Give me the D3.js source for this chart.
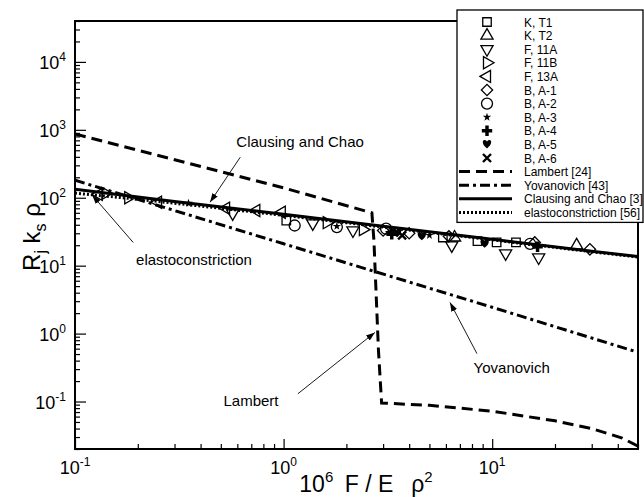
<!DOCTYPE html>
<html><head><meta charset="utf-8">
<script src="https://cdn.jsdelivr.net/npm/d3@7"></script>
<style>
body{margin:0;background:#fff}
svg text{font-family:"Liberation Sans",Arial,Helvetica,sans-serif;fill:#000}
</style>
</head><body>
<svg id="chart" width="644" height="497"></svg>
<script>
// ---------- data ----------
const xDomain = [0.1, 50];
const yDomain = [0.02, 40000];
const xMajorTicks = [0.1, 1, 10];
const xTickExponents = ["-1", "0", "1"];
const yMajorTicks = [0.1, 1, 10, 100, 1000, 10000];
const yTickExponents = ["-1", "0", "1", "2", "3", "4"];

// curves [x, y]
const lambert = [[0.1, 870], [1, 140], [2.65, 60], [2.71, 23.6], [2.85, 0.56], [2.95, 0.095],
  [5, 0.088], [10, 0.072], [20, 0.052], [30, 0.04], [42, 0.029], [50, 0.022]];
const yovanovich = [[0.1, 181], [1, 21], [10, 2.44], [50, 0.53]];
const clausingChao = [[0.1, 133], [0.3, 88], [1, 57], [3, 38], [10, 24.5], [30, 16.3], [50, 13.7]];
const elastoconstriction = [[0.1, 117], [0.2, 95], [0.5, 70], [1, 55], [3, 37], [10, 24], [30, 16], [50, 13.4]];

// experimental data
const kT1 = [[1.03, 46], [5.8, 26], [8.5, 23], [10.5, 22], [13, 22]];
const kT2 = [[6.6, 26], [25.4, 19.9]];
const f11A = [[0.57, 59], [1.38, 42], [2.15, 33], [6.4, 19.9], [11.6, 15.2], [16.7, 13.2]];
const f11B = [[0.14, 116], [0.18, 100], [1.61, 43], [2.4, 34]];
const f13A = [[0.13, 112], [0.25, 86], [0.53, 70], [0.74, 65], [0.98, 61]];
const bA1 = [[3.0, 33], [4.0, 30], [6.2, 27], [16, 22], [29.4, 17.4]];
const bA2 = [[1.13, 39], [1.8, 37], [3.1, 35], [15.2, 21]];
const bA3 = [[0.35, 83], [1.8, 38], [3.2, 31], [5, 28]];
const bA4 = [[3.3, 29], [16.5, 19]];
const bA5 = [[3.5, 30], [4.6, 27], [9.2, 21]];
const bA6 = [[3.7, 28]];

const seriesNames = ["K, T1", "K, T2", "F, 11A", "F, 11B", "F, 13A", "B, A-1", "B, A-2", "B, A-3", "B, A-4", "B, A-5", "B, A-6"];
const seriesData = [kT1, kT2, f11A, f11B, f13A, bA1, bA2, bA3, bA4, bA5, bA6];
const lineNames = ["Lambert [24]", "Yovanovich [43]", "Clausing and Chao [3]", "elastoconstriction [56]"];
const lineData = [lambert, yovanovich, clausingChao, elastoconstriction];

// annotations: label, text position [x,y], arrow from [x,y] to [x,y]
const annLabels = ["Clausing and Chao", "elastoconstriction", "Yovanovich", "Lambert"];
const annText = [[1.2, 560], [0.372, 10.1], [12.4, 0.266], [0.698, 0.0865]];
const annFrom = [[0.62, 396], [0.19, 22], [8.45, 0.507], [1.17, 0.13]];
const annTo = [[0.444, 86], [0.121, 109], [6.28, 2.87], [2.74, 1.04]];

// ---------- drawing ----------
const svg = d3.select("#chart");
const L = 75, R = 638, T = 21, B = 449;
const x = d3.scaleLog().domain(xDomain).range([L, R]);
const y = d3.scaleLog().domain(yDomain).range([B, T]);

const defs = svg.append("defs");
defs.append("clipPath").attr("id", "clip").append("rect")
  .attr("x", L).attr("y", T).attr("width", R - L).attr("height", B - T);
defs.append("marker").attr("id", "arrow").attr("viewBox", "0 0 10 10")
  .attr("refX", 10).attr("refY", 5).attr("markerWidth", 9).attr("markerHeight", 9)
  .attr("markerUnits", "userSpaceOnUse").attr("orient", "auto")
  .append("path").attr("d", "M0,1.5 L10,5 L0,8.5 Z").attr("fill", "#000");

// axes ticks (inside)
const xMinor = x.ticks().filter(v => !xMajorTicks.some(m => Math.abs(m - v) < 1e-9));
const yMinor = y.ticks().filter(v => !yMajorTicks.some(m => Math.abs(m / v - 1) < 1e-9));

const gx = svg.append("g").attr("transform", `translate(0,${B})`);
gx.call(d3.axisBottom(x).tickValues(xMinor).tickSize(-5).tickFormat(""));
gx.append("g").call(d3.axisBottom(x).tickValues(xMajorTicks).tickSize(-10).tickFormat(""));
gx.selectAll(".domain").remove();
gx.selectAll("line").attr("stroke", "#000").attr("stroke-width", 1.2);

const gy = svg.append("g").attr("transform", `translate(${L},0)`);
gy.call(d3.axisLeft(y).tickValues(yMinor).tickSize(-5).tickFormat(""));
gy.append("g").call(d3.axisLeft(y).tickValues(yMajorTicks).tickSize(-11).tickFormat(""));
gy.selectAll(".domain").remove();
gy.selectAll("line").attr("stroke", "#000").attr("stroke-width", 1.2);

// tick labels with superscripts
xMajorTicks.forEach((v, i) => {
  const t = svg.append("text").attr("x", x(v)).attr("y", 474).attr("text-anchor", "middle").attr("font-size", 18);
  t.append("tspan").text("10");
  t.append("tspan").attr("dy", -8).attr("font-size", 12).text(xTickExponents[i]);
});
yMajorTicks.forEach((v, i) => {
  const t = svg.append("text").attr("x", 66).attr("y", y(v) + 7).attr("text-anchor", "end").attr("font-size", 18);
  t.append("tspan").text("10");
  t.append("tspan").attr("dy", -8).attr("font-size", 12).text(yTickExponents[i]);
});

// axis titles
const xt = svg.append("text").attr("x", 366).attr("y", 492).attr("text-anchor", "middle")
  .attr("font-size", 23).attr("xml:space", "preserve");
xt.append("tspan").text("10");
xt.append("tspan").attr("dy", -10).attr("font-size", 15).text("6");
xt.append("tspan").attr("dy", 10).text("\u2002F / E \u2002\u03C1");
xt.append("tspan").attr("dy", -10).attr("font-size", 15).text("2");

const yt = svg.append("text").attr("transform", "translate(40,237) rotate(-90)").attr("text-anchor", "middle")
  .attr("font-size", 24).attr("xml:space", "preserve");
yt.append("tspan").text("R");
yt.append("tspan").attr("dy", 6).attr("font-size", 16).text("j");
yt.append("tspan").attr("dy", -6).text(" k");
yt.append("tspan").attr("dy", 6).attr("font-size", 16).text("s");
yt.append("tspan").attr("dy", -6).text(" \u03C1");

// line styles
const lineStyles = [
  {dash: "11,6", w: 3},
  {dash: "10,4,3,4", w: 3},
  {dash: null, w: 3},
  {dash: "2,2", w: 3}
];
const lineGen = d3.line().x(d => x(d[0])).y(d => y(d[1]));
const gl = svg.append("g").attr("clip-path", "url(#clip)");
lineData.forEach((data, i) => {
  gl.append("path").datum(data).attr("d", lineGen).attr("fill", "none")
    .attr("stroke", "#000").attr("stroke-width", lineStyles[i].w)
    .attr("stroke-dasharray", lineStyles[i].dash);
});

// marker symbols
const heart = "M0,4 C-7,-1 -4,-7 0,-3 C4,-7 7,-1 0,4 Z";
const xmark = "M-4,-4 L4,4 M4,-4 L-4,4";
function drawMarker(g, i) {
  const open = {fill: "none", stroke: "#000", "stroke-width": 1.3};
  let p;
  switch (i) {
    case 0: p = g.append("path").attr("d", d3.symbol(d3.symbolSquare, 72)()); break;
    case 1: p = g.append("path").attr("d", d3.symbol(d3.symbolTriangle, 64)()); break;
    case 2: p = g.append("path").attr("d", d3.symbol(d3.symbolTriangle, 64)()).attr("transform", "rotate(180)"); break;
    case 3: p = g.append("path").attr("d", d3.symbol(d3.symbolTriangle, 64)()).attr("transform", "rotate(90)"); break;
    case 4: p = g.append("path").attr("d", d3.symbol(d3.symbolTriangle, 64)()).attr("transform", "rotate(-90)"); break;
    case 5: p = g.append("path").attr("d", d3.symbol(d3.symbolSquare, 64)()).attr("transform", "rotate(45)"); break;
    case 6: p = g.append("path").attr("d", d3.symbol(d3.symbolCircle, 95)()); break;
    case 7: return g.append("path").attr("d", d3.symbol(d3.symbolStar, 22)()).attr("fill", "#000");
    case 8: return g.append("path").attr("d", d3.symbol(d3.symbolCross, 60)()).attr("fill", "#000");
    case 9: return g.append("path").attr("d", heart).attr("fill", "#000");
    case 10: return g.append("path").attr("d", xmark).attr("fill", "none").attr("stroke", "#000").attr("stroke-width", 2.4);
  }
  Object.entries(open).forEach(([k, v]) => p.attr(k, v));
  return p;
}

const gm = svg.append("g").attr("clip-path", "url(#clip)");
seriesData.forEach((data, i) => {
  gm.selectAll(null).data(data).enter().append("g")
    .attr("transform", d => `translate(${x(d[0])},${y(d[1])})`)
    .each(function () { drawMarker(d3.select(this), i); });
});

// frame
svg.append("rect").attr("x", L).attr("y", T).attr("width", R - L).attr("height", B - T)
  .attr("fill", "none").attr("stroke", "#000").attr("stroke-width", 2);

// annotations
annLabels.forEach((lab, i) => {
  svg.append("line").attr("x1", x(annFrom[i][0])).attr("y1", y(annFrom[i][1]))
    .attr("x2", x(annTo[i][0])).attr("y2", y(annTo[i][1]))
    .attr("stroke", "#000").attr("stroke-width", 0.9).attr("marker-end", "url(#arrow)");
  svg.append("text").attr("x", x(annText[i][0])).attr("y", y(annText[i][1]))
    .attr("text-anchor", "middle").attr("font-size", 15).text(lab);
});

// legend
const legX = 457, legY = 10, legW = 186, rowH = 13.6, row0 = 22;
const nRows = seriesNames.length + lineNames.length;
const lg = svg.append("g");
lg.append("rect").attr("x", legX).attr("y", legY).attr("width", legW)
  .attr("height", row0 - legY + rowH * (nRows - 1) + 10)
  .attr("fill", "#fff").attr("stroke", "#000").attr("stroke-width", 1.3);
seriesNames.forEach((name, i) => {
  const yy = row0 + i * rowH;
  drawMarker(lg.append("g").attr("transform", `translate(487,${yy})`), i);
  lg.append("text").attr("x", 524).attr("y", yy + 4.5).attr("font-size", 12).text(name);
});
lineNames.forEach((name, j) => {
  const yy = row0 + (seriesNames.length + j) * rowH;
  lg.append("line").attr("x1", 459).attr("x2", 512).attr("y1", yy).attr("y2", yy)
    .attr("stroke", "#000").attr("stroke-width", lineStyles[j].w)
    .attr("stroke-dasharray", lineStyles[j].dash);
  lg.append("text").attr("x", 524).attr("y", yy + 4.5).attr("font-size", 12).text(name);
});
</script>
</body></html>
